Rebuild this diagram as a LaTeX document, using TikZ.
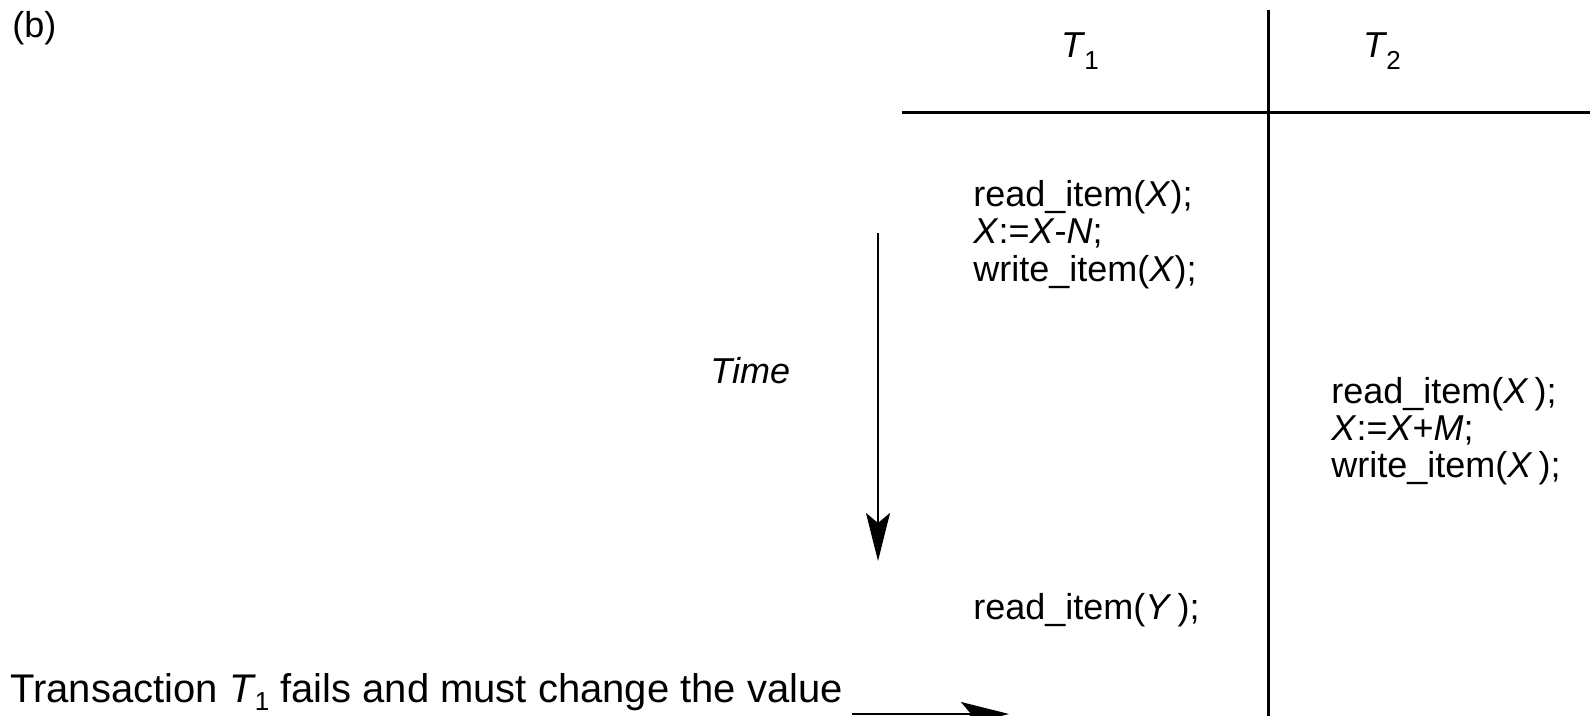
\documentclass[tikz,border=0pt]{standalone}
\usepackage{fontspec}
\setmainfont{Liberation Sans}
\usetikzlibrary{arrows.meta}
\newcommand{\tsub}[2][0.32em]{\kern-0.5pt\raisebox{-#1}{\fontsize{13}{13}\selectfont #2}}
\begin{document}
\begin{tikzpicture}[x=0.5pt,y=-0.5pt,
  txt/.style={anchor=base west,inner sep=0pt,font=\fontsize{18}{18.75}\selectfont},
  bigtxt/.style={anchor=base west,inner sep=0pt,font=\fontsize{20}{21}\selectfont},
  head/.style={anchor=base,inner sep=0pt,font=\fontsize{18}{18.75}\selectfont},
  rule/.style={line width=1.5pt},
  timearrow/.style={line width=1.2pt,-{Stealth[length=24pt,width=12pt,inset=5pt]}}]
\useasboundingbox (0,0) rectangle (1590,716);
% labels
\node[txt] (b) at (12,38) {(b)};
\node[head] (t1) at (1080,58) {\textit{T}\tsub{1}};
\node[head] (t2) at (1382,58) {\textit{T}\tsub{2}};
% table rules
\coordinate (vtop) at (1268,10);
\coordinate (vbot) at (1268,716);
\coordinate (hl) at (902,113);
\coordinate (hr) at (1590,113);
\draw[rule] (vtop) -- (vbot);
\draw[rule] (hl) -- (hr);
% T1 operations
\node[txt] (a1) at (973,207) {read\_item(\textit{X});};
\node[txt] (a2) at (973,244) {\textit{X}:=\textit{X}-\textit{N};};
\node[txt] (a3) at (973,282) {write\_item(\textit{X});};
% T2 operations
\node[txt] (b1) at (1331,404) {read\_item(\textit{X}\,);};
\node[txt] (b2) at (1331,441) {\textit{X}:=\textit{X}+\textit{M};};
\node[txt] (b3) at (1331,478) {write\_item(\textit{X}\,);};
% T1 later
\node[txt] (a4) at (973,619) {read\_item(\textit{Y}\,);};
% time
\node[txt] (time) at (710,384) {\textit{Time}};
\coordinate (ts) at (878,233);
\coordinate (te) at (878,561);
\draw[timearrow] (ts) -- (te);
% failure note
\node[bigtxt] (fail) at (10,702) {Transaction \textit{T}\tsub[0.2em]{1} fails and must change the value};
\coordinate (fs) at (852,714);
\coordinate (fe) at (1009,714);
\draw[timearrow] (fs) -- (fe);
\end{tikzpicture}
\end{document}
